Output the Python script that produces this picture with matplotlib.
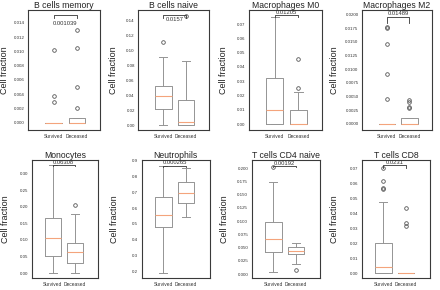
import numpy as np
import matplotlib
matplotlib.use("Agg")
import matplotlib.pyplot as plt

plt.rcParams['font.family'] = ['Liberation Sans', 'DejaVu Sans']

titles = ["B cells memory", "B cells naive", "Macrophages M0", "Macrophages M2",
          "Monocytes", "Neutrophils", "T cells CD4 naive", "T cells CD8"]
groups = ["Survived", "Deceased"]
p_values = ["0.001039", "0.0157", "0.01205", "0.01489",
            "0.06308", "0.000265", "0.00192", "0.0231"]

# per panel: [survived, deceased]
whislo = [[0.0, 0.0], [0.0, 0.0], [0.0, 0.0], [0.0, 0.0],
          [0.0, 0.0], [0.19, 0.545], [0.003, 0.0188], [0.0, 0.0]]
q1 = [[0.0, 0.0], [0.0217, 0.0], [0.0, 0.0], [0.0, 0.0],
      [0.0504, 0.030], [0.480, 0.635], [0.0425, 0.0375], [0.0, 0.0]]
med = [[0.0, 0.0], [0.0386, 0.0045], [0.0098, 0.0], [0.0, 0.0],
       [0.1057, 0.0624], [0.559, 0.698], [0.0656, 0.0438], [0.0038, 0.0]]
q3 = [[0.0, 0.00065], [0.0523, 0.034], [0.032, 0.0098], [0.0, 0.00115],
      [0.166, 0.0906], [0.670, 0.764], [0.099, 0.0513], [0.020, 0.0]]
whishi = [[0.0, 0.00065], [0.0909, 0.0855], [0.0747, 0.0221], [0.0, 0.00115],
          [0.327, 0.178], [0.869, 0.852], [0.174, 0.0594], [0.0473, 0.0]]
fliers = [
    [[0.0102, 0.00377, 0.00297], [0.0130, 0.01043, 0.0050, 0.00205]],
    [[0.112], [0.147]],
    [[], [0.0453, 0.0255]],
    [[0.0178, 0.0176, 0.01467, 0.0091, 0.0045], [0.00436, 0.00406, 0.00315, 0.00285]],
    [[], [0.2064]],
    [[], []],
    [[0.203], [0.0075]],
    [[0.070, 0.0616, 0.0567, 0.056], [0.0433, 0.0333, 0.0318]],
]
yticks = [
    [0.000, 0.002, 0.004, 0.006, 0.008, 0.010, 0.012, 0.014],
    [0.00, 0.02, 0.04, 0.06, 0.08, 0.10, 0.12, 0.14],
    [0.00, 0.01, 0.02, 0.03, 0.04, 0.05, 0.06, 0.07],
    [0.0, 0.0025, 0.005, 0.0075, 0.01, 0.0125, 0.015, 0.0175, 0.02],
    [0.00, 0.05, 0.10, 0.15, 0.20, 0.25, 0.30],
    [0.2, 0.3, 0.4, 0.5, 0.6, 0.7, 0.8, 0.9],
    [0.0, 0.025, 0.05, 0.075, 0.1, 0.125, 0.15, 0.175, 0.2],
    [0.00, 0.01, 0.02, 0.03, 0.04, 0.05, 0.06, 0.07],
]
ytick_fmt = ["{:.3f}", "{:.2f}", "{:.2f}", "{:.4f}", "{:.2f}", "{:.1f}", "{:.3f}", "{:.2f}"]

# layout / style (not data)
ylims = [(-0.00098, 0.01577), (-0.0065, 0.1546), (-0.0042, 0.0798), (-0.0011, 0.02085),
         (-0.015, 0.342), (0.158, 0.905), (-0.0075, 0.2156), (-0.0033, 0.0756)]
bracket_y = [0.01507, 0.1477, 0.0763, 0.01964, 0.327, 0.869, 0.205, 0.0722]
bracket_leg = [0.0004, 0.004, 0.0016, 0.0011, 0.004, 0.01, 0.003, 0.0018]
text_y = [0.0139, 0.142, 0.0780, 0.0202, 0.335, 0.890, 0.2095, 0.0740]

W, H = 440, 290
axes_px = [  # left, right, top, bottom in pixels
    (28.3, 100, 10, 130), (138.3, 209, 10, 130), (249, 322, 10, 130), (362, 432, 10, 130),
    (31.7, 98, 160, 278), (141.7, 210, 160, 278), (251.7, 320, 160, 278), (361.7, 430, 160, 278),
]
ylabel_off = [19, 20, 21, 23, 22, 23, 23, 23]

fig = plt.figure(figsize=(W / 100, H / 100), dpi=100)
box_c = '#949494'
med_c = '#f4a47c'
spine_c = '#3a3a3a'

for i in range(8):
    l, r, t, b = axes_px[i]
    ax = fig.add_axes([l / W, 1 - b / H, (r - l) / W, (b - t) / H])
    stats = []
    for g in range(2):
        stats.append(dict(label=groups[g], whislo=whislo[i][g], q1=q1[i][g], med=med[i][g],
                          q3=q3[i][g], whishi=whishi[i][g], fliers=fliers[i][g]))
    ax.bxp(stats, positions=[1, 2], widths=0.72, patch_artist=False,
           boxprops=dict(color=box_c, linewidth=0.7),
           whiskerprops=dict(color=box_c, linewidth=0.7),
           capprops=dict(color=box_c, linewidth=0.7),
           medianprops=dict(color=med_c, linewidth=0.8),
           flierprops=dict(marker='o', markersize=2.6, markerfacecolor='none',
                           markeredgecolor='#555555', markeredgewidth=0.6))
    if i < 4:
        ax.set_xlim(-0.1, 3.0)
    else:
        ax.set_xlim(0.05, 3.05)
    ax.set_ylim(*ylims[i])
    ax.set_yticks(yticks[i])
    ax.set_yticklabels([ytick_fmt[i].format(v) for v in yticks[i]])
    ax.tick_params(axis='both', length=0, labelsize=3.2, pad=2.5, labelcolor='#333333')
    ax.tick_params(axis='x', labelsize=3.5, pad=3)
    for s in ax.spines.values():
        s.set_color(spine_c)
        s.set_linewidth(0.8)
    ax.set_title(titles[i], fontsize=6.2, pad=1.5, color='#222222')
    ax.set_ylabel("Cell fraction", fontsize=6.5, color='#222222')
    ax.yaxis.set_label_coords(-ylabel_off[i] / (r - l), 0.5)
    by = bracket_y[i]
    bl = bracket_leg[i]
    ax.plot([1, 1, 2, 2], [by - bl, by, by, by - bl], color='#333333', linewidth=0.6)
    ax.text(1.5, text_y[i], p_values[i], ha='center', va='center', fontsize=4.2, color='#333333')

fig.savefig("out.png", dpi=100, facecolor='white')
